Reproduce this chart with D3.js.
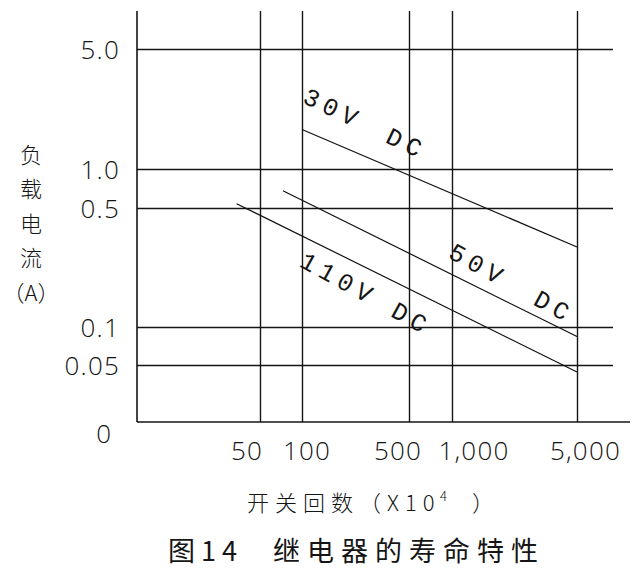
<!DOCTYPE html>
<html><head><meta charset="utf-8">
<script src="https://cdn.jsdelivr.net/npm/d3@7"></script>
<style>body{margin:0;background:#fff}svg{display:block}</style>
</head><body>
<svg id="c" width="640" height="570"></svg>
<script>
// ---- data ----
const xTicks = [50, 100, 500, 1000, 5000];
const xTickLabels = ["50", "100", "500", "1,000", "5,000"];
const yTicks = [5, 1, 0.5, 0.1, 0.05];
const yTickLabels = ["5.0", "1.0", "0.5", "0.1", "0.05"];
const originLabel = "0";
const seriesNames = ["30V", "50V", "110V"];
const seriesSuffix = "DC";
const seriesCycles = [[100, 5000], [73, 5000], [34, 5000]];      // 开关回数 (x10^4)
const seriesCurrent = [[1.7, 0.295], [0.68, 0.084], [0.54, 0.044]]; // 负载电流 (A)
const yTitleChars = ["负", "载", "电", "流", "（A）"];
const xTitleMain = "开关回数（X10";
const xTitleSup = "4";
const xTitleEnd = "）";
const captionNum = "图14";
const captionText = "继电器的寿命特性";

// ---- layout ----
const plot = {left: 137, right: 613, top: 11, bottom: 422, axisEnd: 630};
const xRange = [260, 302, 409, 452, 577];
const yRange = [49, 169, 208, 327, 365];
const xLabelNudge = [-13.5, 4.5, -11.5, 21.5, 8];
const labelAtX = [99, 922, 94];
const labelShift = [-27, -15, 31.5];
const dcGap = [29, 34, 20];

const svg = d3.select("#c");
svg.append("rect").attr("width", 640).attr("height", 570).attr("fill", "#fff");

const x = d3.scaleLog().domain(xTicks).range(xRange);
const y = d3.scaleLog().domain(yTicks).range(yRange);

const ink = "#151515";
const numFont = "'Open Sans', 'Liberation Sans', Arial, sans-serif";
const numWeight = 300;
const cjkFont = "'Noto Sans CJK SC', 'Noto Sans', sans-serif";

// horizontal grid + y labels
const gy = svg.append("g").attr("transform", `translate(${plot.left},0)`)
  .call(d3.axisLeft(y).tickValues(yTicks).tickFormat((d, i) => yTickLabels[i])
    .tickSize(-(plot.right - plot.left)).tickPadding(17));
gy.select(".domain").remove();
gy.selectAll(".tick line").attr("stroke", ink).attr("stroke-width", 1.4);
gy.selectAll(".tick text").attr("fill", ink).attr("font-family", numFont)
  .attr("font-weight", numWeight)
  .attr("font-size", 26).attr("letter-spacing", 1.2).attr("dy", "0.36em");

// vertical grid + x labels
const gx = svg.append("g").attr("transform", `translate(0,${plot.bottom})`)
  .call(d3.axisBottom(x).tickValues(xTicks).tickFormat((d, i) => xTickLabels[i])
    .tickSize(-(plot.bottom - plot.top)));
gx.select(".domain").remove();
gx.selectAll(".tick line").attr("stroke", ink).attr("stroke-width", 1.4);
gx.selectAll(".tick text").attr("fill", ink).attr("font-family", numFont)
  .attr("font-weight", numWeight)
  .attr("font-size", 26).attr("letter-spacing", 1.2)
  .attr("y", 38).attr("dy", 0)
  .attr("dx", (d, i) => xLabelNudge[i]);

// frame
svg.append("line").attr("x1", plot.left).attr("x2", plot.left)
  .attr("y1", plot.top).attr("y2", plot.bottom).attr("stroke", ink).attr("stroke-width", 1.6);
svg.append("line").attr("x1", plot.left).attr("x2", plot.axisEnd)
  .attr("y1", plot.bottom).attr("y2", plot.bottom).attr("stroke", ink).attr("stroke-width", 1.6);

// origin label
svg.append("text").attr("x", 111).attr("y", 443).attr("text-anchor", "end")
  .attr("font-family", numFont).attr("font-weight", numWeight)
  .attr("font-size", 26).attr("fill", ink).text(originLabel);

// series lines
const line = d3.line().x(d => x(d[0])).y(d => y(d[1]));
seriesNames.forEach((name, i) => {
  const pts = seriesCycles[i].map((c, k) => [c, seriesCurrent[i][k]]);
  svg.append("path").attr("d", line(pts)).attr("fill", "none")
    .attr("stroke", "#111").attr("stroke-width", 1.2);
  const p0 = [x(pts[0][0]), y(pts[0][1])];
  const p1 = [x(pts[1][0]), y(pts[1][1])];
  const slope = (p1[1] - p0[1]) / (p1[0] - p0[0]);
  const ang = Math.atan(slope) * 180 / Math.PI + 2.5;
  const ax = x(labelAtX[i]);
  const ay = p0[1] + (ax - p0[0]) * slope + labelShift[i];
  const t = svg.append("text")
    .attr("transform", `translate(${ax},${ay}) rotate(${ang})`)
    .attr("font-family", "'Liberation Mono', 'DejaVu Sans Mono', monospace")
    .attr("font-size", 25).attr("letter-spacing", 6).attr("fill", ink);
  t.append("tspan").text(name);
  t.append("tspan").attr("dx", dcGap[i]).text(seriesSuffix);
});

// y title (vertical stacked)
svg.append("g").selectAll("text").data(yTitleChars).join("text")
  .attr("x", 31).attr("y", (d, i) => 155 + i * 34.5).attr("dy", "0.36em")
  .attr("text-anchor", "middle").attr("font-family", cjkFont)
  .attr("font-size", 22).attr("font-weight", 300).attr("fill", ink).text(d => d);

// x title
const xt = svg.append("text").attr("x", 247).attr("y", 511)
  .attr("font-family", cjkFont).attr("font-size", 22).attr("font-weight", 300).attr("fill", ink);
xt.append("tspan").attr("letter-spacing", 6).text(xTitleMain);
xt.append("tspan").attr("x", 440).attr("dy", -10).attr("font-size", 13).text(xTitleSup);
xt.append("tspan").attr("x", 472).attr("dy", 10).text(xTitleEnd);

// caption
svg.append("text").attr("x", 168).attr("y", 561)
  .attr("font-family", cjkFont).attr("font-size", 27).attr("letter-spacing", 6)
  .attr("fill", ink).text(captionNum);
svg.append("text").attr("x", 273).attr("y", 561)
  .attr("font-family", cjkFont).attr("font-size", 27).attr("letter-spacing", 7)
  .attr("fill", ink).text(captionText);
</script>
</body></html>
